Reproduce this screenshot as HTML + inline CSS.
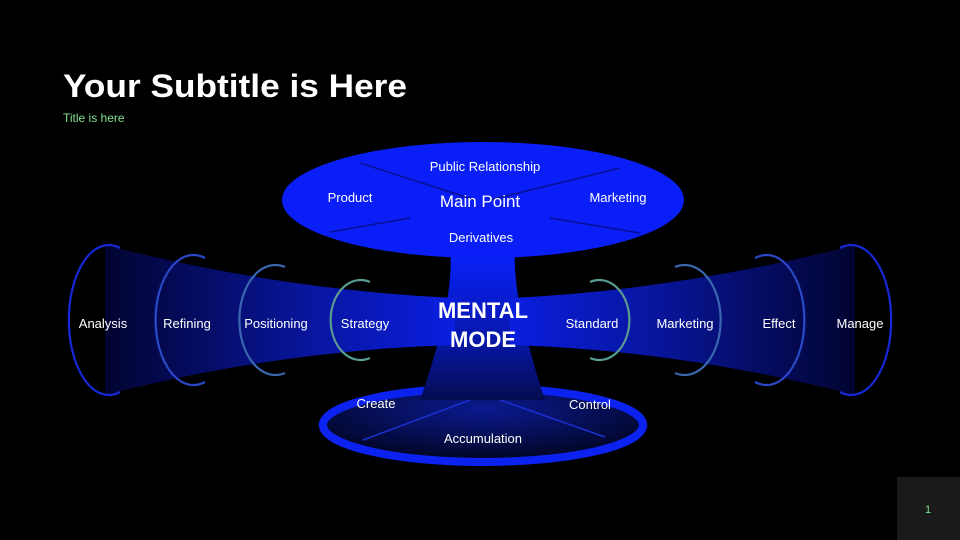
<!DOCTYPE html>
<html><head><meta charset="utf-8"><style>
html,body{margin:0;padding:0;background:#000;}
svg{display:block;font-family:"Liberation Sans",Arial,sans-serif;}
</style></head><body>
<svg width="960" height="540" viewBox="0 0 960 540" xmlns="http://www.w3.org/2000/svg">
<defs>
<linearGradient id="coneL" x1="0" x2="1" y1="0" y2="0">
<stop offset="0" stop-color="#020430"/>
<stop offset="0.6" stop-color="#0816a0"/>
<stop offset="1" stop-color="#0a1ee0"/>
</linearGradient>
<linearGradient id="coneR" x1="1" x2="0" y1="0" y2="0">
<stop offset="0" stop-color="#020430"/>
<stop offset="0.6" stop-color="#0816a0"/>
<stop offset="1" stop-color="#0a1ee0"/>
</linearGradient>
<linearGradient id="stem" x1="0" x2="0" y1="0" y2="1">
<stop offset="0" stop-color="#0a22ff"/>
<stop offset="0.6" stop-color="#0717a8"/>
<stop offset="1" stop-color="#040c50"/>
</linearGradient>
<radialGradient id="bot" cx="0.5" cy="0.3" r="0.7">
<stop offset="0" stop-color="#0a1a90"/>
<stop offset="1" stop-color="#010318"/>
</radialGradient>
</defs>
<rect width="960" height="540" fill="#000"/>
<text x="63" y="97" font-size="32" font-weight="bold" fill="#fff" textLength="344" lengthAdjust="spacingAndGlyphs">Your Subtitle is Here</text>
<text x="63" y="122" font-size="12" fill="#7fe08e">Title is here</text>

<ellipse cx="483" cy="425" rx="165" ry="40" fill="url(#bot)"/>
<ellipse cx="483" cy="425" rx="160" ry="37" fill="none" stroke="#0b22f0" stroke-width="8"/>
<line x1="363" y1="440" x2="470" y2="400" stroke="#1a2fd0" stroke-width="1.5"/>
<line x1="500" y1="400" x2="605" y2="437" stroke="#1a2fd0" stroke-width="1.5"/>

<path d="M450 250 Q455 300 420 400 L545 400 Q512 300 515 250 Z" fill="url(#stem)"/>

<path d="M105 245 Q280 290 455 298 L455 345 Q280 350 105 395 Z" fill="url(#coneL)"/>
<path d="M855 245 Q680 290 510 298 L510 345 Q680 350 855 395 Z" fill="url(#coneR)"/>

<g fill="none" stroke-width="2.2">
<path d="M120 248 A40 75 0 1 0 120 392" stroke="#1428d8"/>
<path d="M205 258 A38 65 0 1 0 205 382" stroke="#2a48c8"/>
<path d="M285 267 A36 55 0 1 0 285 373" stroke="#3a66b0"/>
<path d="M370 282 A30 40 0 1 0 370 358" stroke="#5a9a90"/>
<path d="M590 282 A30 40 0 1 1 590 358" stroke="#5a9a90"/>
<path d="M675 267 A36 55 0 1 1 675 373" stroke="#3a66b0"/>
<path d="M755 258 A38 65 0 1 1 755 382" stroke="#2a48c8"/>
<path d="M840 248 A40 75 0 1 1 840 392" stroke="#1428d8"/>
</g>

<ellipse cx="483" cy="200" rx="201" ry="58" fill="#0a1ef8"/>
<g stroke="#071090" stroke-width="1.5">
<line x1="360" y1="163" x2="475" y2="200"/>
<line x1="490" y1="200" x2="620" y2="168"/>
<line x1="330" y1="232" x2="410" y2="218"/>
<line x1="550" y1="218" x2="640" y2="233"/>
</g>

<g fill="#fff" font-size="13" text-anchor="middle">
<text x="485" y="171">Public Relationship</text>
<text x="350" y="202">Product</text>
<text x="618" y="202">Marketing</text>
<text x="481" y="242">Derivatives</text>
<text x="480" y="207" font-size="17">Main Point</text>
<text x="103" y="328">Analysis</text>
<text x="187" y="328">Refining</text>
<text x="276" y="328">Positioning</text>
<text x="365" y="328">Strategy</text>
<text x="592" y="328">Standard</text>
<text x="685" y="328">Marketing</text>
<text x="779" y="328">Effect</text>
<text x="860" y="328">Manage</text>
<text x="376" y="408">Create</text>
<text x="590" y="409">Control</text>
<text x="483" y="443">Accumulation</text>
<text x="483" y="318" font-size="22" font-weight="bold">MENTAL</text>
<text x="483" y="347" font-size="22" font-weight="bold">MODE</text>
</g>

<rect x="897" y="477" width="63" height="63" fill="#1a1a1a"/>
<text x="928" y="513" font-size="11" fill="#7fe08e" text-anchor="middle">1</text>
</svg>
</body></html>
